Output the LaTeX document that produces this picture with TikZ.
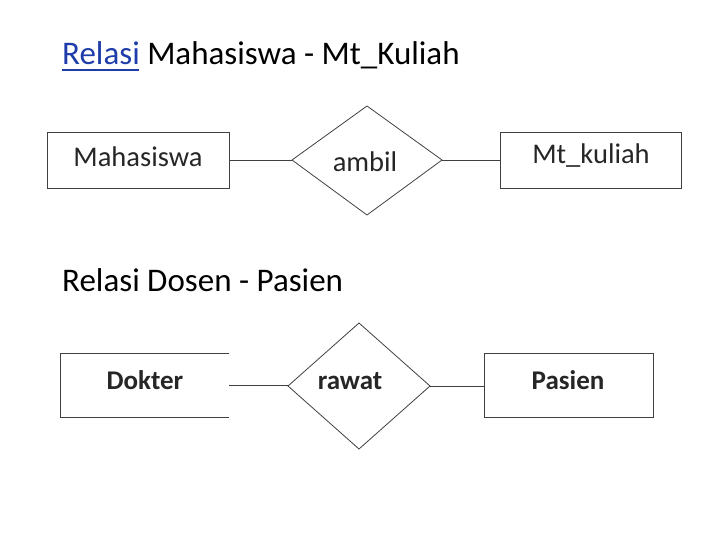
\documentclass[tikz,border=0pt]{standalone}
\usepackage{fontspec}
\setmainfont{Carlito}
\usetikzlibrary{shapes.geometric}
\begin{document}
\begin{tikzpicture}[x=1pt,y=-1pt,
  ln/.style={draw=black!75,line width=0.8pt},
  lbl/.style={font=\fontsize{28.5}{30}\selectfont,text=black!85},
  blbl/.style={font=\bfseries\fontsize{27}{30}\selectfont,text=black!85}]
\useasboundingbox (0,0) rectangle (720,540);
\node[anchor=base west,font=\fontsize{33}{36}\selectfont,inner sep=0pt] (t1) at (62,65) {\textcolor[RGB]{30,60,170}{Relasi} Mahasiswa - Mt\_Kuliah};
\coordinate (u1) at (62,70); \coordinate (u2) at (139,70);
\draw[draw={rgb,255:red,30;green,60;blue,170},line width=1.2pt] (u1) -- (u2);
\node[anchor=base west,font=\fontsize{33}{36}\selectfont,inner sep=0pt] (t2) at (62,291) {Relasi Dosen - Pasien};
% row 1
\draw[ln] (47,132) rectangle (229,188);
\node[lbl] (e1) at (138,157) {Mahasiswa};
\draw[ln] (367,106) -- (442,160) -- (367,215) -- (292,160) -- cycle;
\node[lbl] (r1) at (365,162) {ambil};
\draw[ln] (500,132) rectangle (681,188);
\node[lbl] (e2) at (591,156) {Mt\_kuliah};
\coordinate (a1) at (229,160); \coordinate (a2) at (292,160);
\coordinate (a3) at (442,160); \coordinate (a4) at (500,160);
\draw[ln] (a1) -- (a2); \draw[ln] (a3) -- (a4);
% row 2
\draw[ln] (229,353) -- (60,353) -- (60,417) -- (229,417);
\node[blbl] (e3) at (145,380) {Dokter};
\draw[ln] (359,323) -- (430,386) -- (359,449) -- (288,386) -- cycle;
\node[blbl] (r2) at (350,381) {rawat};
\draw[ln] (484,353) rectangle (653,417);
\node[blbl] (e4) at (568,380) {Pasien};
\coordinate (b1) at (229,385); \coordinate (b2) at (288,385);
\coordinate (b3) at (430,386); \coordinate (b4) at (484,386);
\draw[ln] (b1) -- (b2); \draw[ln] (b3) -- (b4);
\end{tikzpicture}
\end{document}
